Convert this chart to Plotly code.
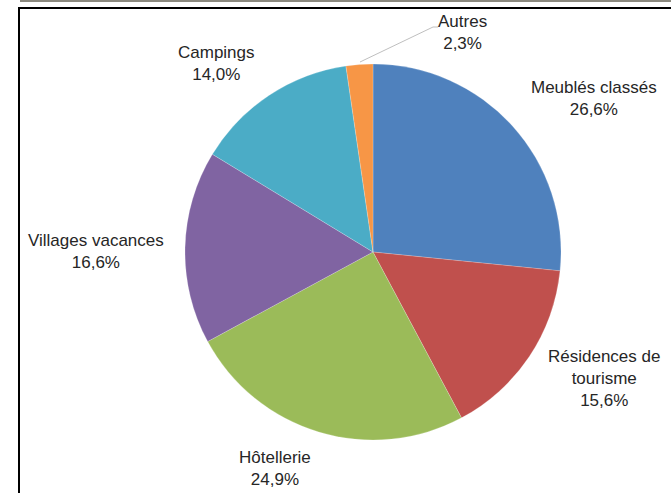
import plotly.graph_objects as go

# Hébergements touristiques : répartition par type
categories = ["Meublés classés", "Résidences de tourisme", "Hôtellerie",
              "Villages vacances", "Campings", "Autres"]
shares = [26.6, 15.6, 24.9, 16.6, 14.0, 2.3]
label_lines = ["Meublés classés", "Résidences de<br>tourisme", "Hôtellerie",
               "Villages vacances", "Campings", "Autres"]
colors = ["#4F81BD", "#C0504D", "#9BBB59", "#8064A2", "#4BACC6", "#F79646"]

W, H = 671, 493
cx, cy, r = 373, 252, 188

# label anchor points (pixel centre of each text block)
label_pos = [(594, 98), (604, 378), (275, 468), (96, 251), (216, 63), (462, 33)]


def px(x):
    return x / W


def py(y):
    return 1 - y / H


fig = go.Figure(go.Pie(
    labels=categories,
    values=shares,
    sort=False,
    direction="clockwise",
    rotation=0,
    textinfo="none",
    hoverinfo="label+percent",
    marker=dict(colors=colors, line=dict(color="rgba(255,255,255,0.4)", width=0.5)),
    domain=dict(x=[px(cx - r), px(cx + r)], y=[py(cy + r), py(cy - r)]),
    showlegend=False,
))

annotations = []
for text, v, (lx, ly) in zip(label_lines, shares, label_pos):
    annotations.append(dict(
        x=px(lx), y=py(ly), xref="paper", yref="paper",
        text=f"{text}<br>{v:.1f}%".replace(".", ","),
        showarrow=False, xanchor="center", yanchor="middle",
        font=dict(family="Liberation Sans, Arial, sans-serif", size=17, color="#262626"),
        align="center",
    ))

shapes = [
    # thin strip along the very top
    dict(type="rect", xref="paper", yref="paper", x0=px(20), x1=1, y0=py(2), y1=1,
         fillcolor="#8c8a80", line=dict(width=0), layer="below"),
    # frame: top and left edges
    dict(type="line", xref="paper", yref="paper", x0=px(18), x1=1, y0=py(8), y1=py(8),
         line=dict(color="black", width=2)),
    dict(type="line", xref="paper", yref="paper", x0=px(19), x1=px(19), y0=py(7), y1=0,
         line=dict(color="black", width=2)),
    # leader line for the small slice
    dict(type="path", xref="paper", yref="paper",
         path=f"M {px(360)},{py(62)} L {px(433)},{py(27)} L {px(438)},{py(27)}",
         line=dict(color="#bfbfbf", width=1)),
]

fig.update_layout(
    width=W, height=H,
    margin=dict(l=0, r=0, t=0, b=0),
    paper_bgcolor="white",
    plot_bgcolor="white",
    annotations=annotations,
    shapes=shapes,
)

fig.write_html("out.html")
